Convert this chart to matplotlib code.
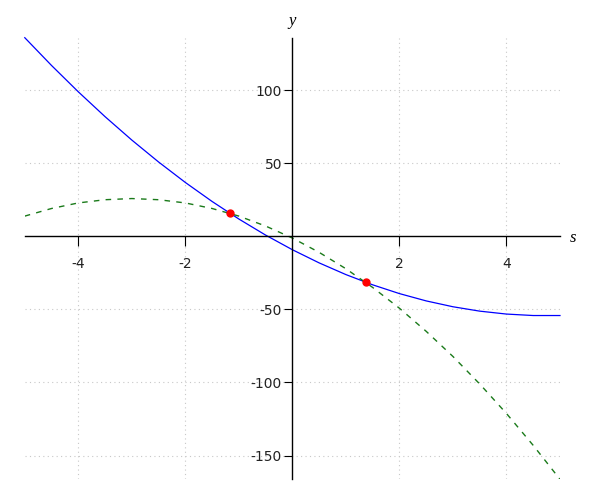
import matplotlib
matplotlib.use('Agg')
import matplotlib.pyplot as plt

# values at steps of 0.5
s_vals = [-5, -4.5, -4, -3.5, -3, -2.5, -2, -1.5, -1, -0.5, 0,
          0.5, 1, 1.5, 2, 2.5, 3, 3.5, 4, 4.5, 5]
y_blue = [135.8, 116.8, 98.8, 81.8, 65.8, 50.8, 36.8, 23.8, 11.8, 0.8, -9.2,
          -18.2, -26.2, -33.2, -39.2, -44.2, -48.2, -51.2, -53.2, -54.2, -54.2]
y_green = [13.8, 19.0, 22.8, 25.0, 25.8, 25.0, 22.8, 19.0, 13.8, 7.0, -1.2,
           -11.0, -22.2, -35.0, -49.2, -65.0, -82.2, -101.0, -121.2, -143.0, -166.2]

# intersection points (red dots)
dot_s = [-1.17, 1.37]
dot_y = [15.7, -31.5]

xticks = [-4, -2, 2, 4]
yticks = [-150, -100, -50, 50, 100]

fig = plt.figure(figsize=(6, 5), dpi=100)
ax = fig.add_axes([0.0413, 0.0414, 0.8920, 0.8832])

ax.plot(s_vals, y_blue, color='blue', linewidth=0.9, clip_on=False)
ax.plot(s_vals, y_green, color='#1a7a1a', linewidth=1.0, linestyle=(0, (4, 4.5)))
ax.plot(dot_s, dot_y, 'o', color='red', markersize=5, zorder=5)

ax.set_xlim(-5, 5)
ax.set_ylim(min(y_green), max(y_blue))

ax.spines['left'].set_position(('data', 0))
ax.spines['bottom'].set_position(('data', 0))
ax.spines['right'].set_visible(False)
ax.spines['top'].set_visible(False)
ax.spines['left'].set_linewidth(1.0)
ax.spines['bottom'].set_linewidth(1.0)

ax.set_xticks(xticks)
ax.set_yticks(yticks)
ax.set_xticklabels([str(t) for t in xticks])
ax.set_yticklabels([str(t) for t in yticks])
ax.tick_params(axis='x', direction='out', length=7.5, width=0.8, pad=7.5,
               labelsize=10, labelcolor='#222222')
ax.tick_params(axis='y', direction='out', length=6, width=0.8, pad=1.5,
               labelsize=10, labelcolor='#222222')

ax.grid(True, color='#c8c8c8', linestyle=(0, (1, 3)), linewidth=0.8)
ax.set_axisbelow(True)

ax.text(292.5 / 600, 1 - 21 / 500, 'y', transform=fig.transFigure,
        ha='center', va='center', fontsize=12, style='italic',
        family='Liberation Serif')
ax.text(573.5 / 600, 1 - 238 / 500, 's', transform=fig.transFigure,
        ha='center', va='center', fontsize=12, style='italic',
        family='Liberation Serif')

fig.savefig('out.png', dpi=100)
